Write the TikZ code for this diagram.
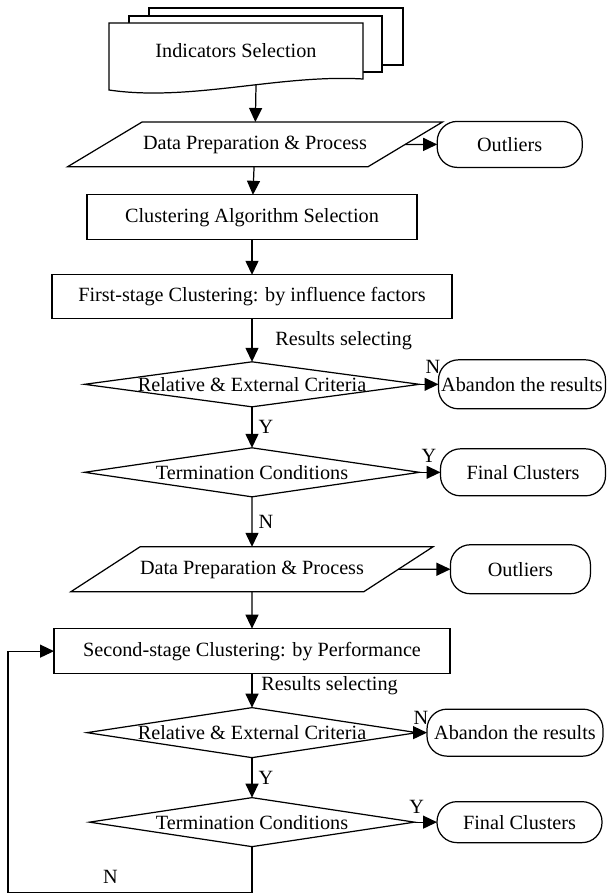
\documentclass[tikz,border=0pt]{standalone}
\usepackage{fontspec}
\setmainfont{Liberation Serif}
\usepackage{tikz}
\usetikzlibrary{positioning, arrows.meta, shapes.geometric, calc, backgrounds}
\tikzset{
  docu/.style    = {rectangle, minimum width=5.08cm, minimum height=1.12cm,
                    inner sep=0pt, outer sep=0pt, align=center},
  sheet/.style   = {draw=black, line width=0.7pt, fill=white},
  proc/.style    = {rectangle, draw=black, line width=0.7pt, outer sep=0pt,
                    minimum height=0.9cm, inner sep=0pt, align=center},
  io/.style      = {trapezium, trapezium left angle=31, trapezium right angle=149,
                    trapezium stretches body, draw=black, line width=0.7pt,
                    text height=8pt, text depth=2.5pt, inner xsep=0pt,
                    inner ysep=7.5pt, outer sep=0pt},
  decide/.style  = {diamond, draw=black, line width=0.7pt, inner sep=0pt,
                    outer sep=0pt, minimum height=0.9cm},
  term/.style    = {rectangle, rounded corners=0.4cm, draw=black, line width=0.7pt,
                    inner sep=0pt, outer sep=0pt, minimum height=0.94cm},
  arr/.style     = {-{Triangle[length=2.8mm,width=2.6mm]}, line width=0.7pt},
  lbl/.style     = {inner sep=1pt},
}
\newcommand{\overtext}[1]{\makebox[0pt]{#1}}

\begin{document}
\begin{tikzpicture}[font=\fontsize{11.5pt}{13pt}\selectfont]
  \useasboundingbox (0,0) rectangle (12.14,-17.9);

  % Input
  \node[docu] (ind) at (4.72,-1.02) {Indicators Selection};
  \begin{scope}[on background layer]
    \draw[sheet] ($(ind.north west)+(0.8,0.3)$) rectangle ($(ind.south east)+(0.8,0.28)$);
    \draw[sheet] ($(ind.north west)+(0.4,0.14)$) rectangle ($(ind.south east)+(0.38,0.14)$);
    \draw[sheet] (ind.north west) -- (ind.north east) -- (ind.south east)
         .. controls ($(ind.south east)+(-1.66,0.1)$) and ($(ind.south west)+(1.62,-0.46)$)
         .. ($(ind.south west)+(0,-0.22)$) -- cycle;
  \end{scope}
  \coordinate (indbot) at ($(ind.south)+(0.4,-0.12)$);

  \node[io, minimum width=7.5cm, below=0.86cm of ind, xshift=0.38cm] (prep1)
       {Data Preparation \& Process};
  \node[term, minimum width=2.9cm, minimum height=0.92cm, right=0.64cm of prep1] (out1) {Outliers};
  \draw[arr] (indbot) -- (prep1);
  \draw[arr] (prep1) -- (out1);

  \node[proc, minimum width=6.6cm, below=0.56cm of prep1, xshift=-0.06cm] (algo)
       {Clustering Algorithm Selection};
  \draw[arr] (prep1) -- (algo);

  % First stage
  \node[proc, minimum width=8cm, minimum height=0.88cm, below=0.7cm of algo] (first)
       {First-stage Clustering: by influence factors};
  \draw[arr] (algo) -- (first);
  \node[decide, minimum width=6.7cm, below=0.86cm of first] (crit1)
       {\overtext{Relative \& External Criteria}};
  \draw[arr] (first) -- node[lbl, right=12pt] {Results selecting} (crit1);
  \node[term, minimum width=3.34cm, minimum height=0.98cm, right=0.38cm of crit1] (aban1)
       {Abandon the results};
  \draw[arr] (crit1) -- node[lbl, pos=0.7, above=5pt] {N} (aban1);

  \node[decide, minimum width=6.7cm, minimum height=0.98cm, below=0.82cm of crit1] (term1)
       {\overtext{Termination Conditions}};
  \draw[arr] (crit1) -- node[lbl, right=2.4pt] {Y} (term1);
  \node[term, minimum width=3.3cm, right=0.42cm of term1] (fin1) {Final Clusters};
  \draw[arr] (term1) -- node[lbl, pos=0.45, above=4.5pt] {Y} (fin1);

  % Second stage
  \node[io, minimum width=6.72cm, trapezium left angle=33, trapezium right angle=147,
        below=1cm of term1] (prep2) {Data Preparation \& Process};
  \draw[arr] (term1) -- node[lbl, right=2.4pt] {N} (prep2);
  \node[term, minimum width=2.8cm, minimum height=0.98cm, right=1.04cm of prep2] (out2) {Outliers};
  \draw[arr] (prep2) -- (out2);

  \node[proc, minimum width=7.92cm, below=0.74cm of prep2] (second)
       {Second-stage Clustering: by Performance};
  \draw[arr] (prep2) -- (second);
  \node[decide, minimum width=6.6cm, minimum height=1cm, below=0.68cm of second] (crit2)
       {\overtext{Relative \& External Criteria}};
  \draw[arr] (second) -- node[lbl, pos=0.35, right=4pt] {Results selecting} (crit2);
  \node[term, minimum width=3.52cm, right=0.2cm of crit2] (aban2) {Abandon the results};
  \draw[arr] (crit2) -- node[lbl, pos=0.4, above=3.5pt] {N} (aban2);

  \node[decide, minimum width=6.5cm, minimum height=0.98cm, below=0.8cm of crit2] (term2)
       {\overtext{Termination Conditions}};
  \draw[arr] (crit2) -- node[lbl, right=2.4pt] {Y} (term2);
  \node[term, minimum width=3.3cm, minimum height=0.82cm, right=0.45cm of term2] (fin2)
       {Final Clusters};
  \draw[arr] (term2) -- node[lbl, pos=0.1, above=3.5pt] {Y} (fin2);

  \coordinate[left=0.92cm of second.west] (loop);
  \draw[arr] (term2.south) -- ++(0,-0.92) -| node[lbl, pos=0.29, above=4pt] {N} (loop)
       -- (second.west);

\end{tikzpicture}
\end{document}
